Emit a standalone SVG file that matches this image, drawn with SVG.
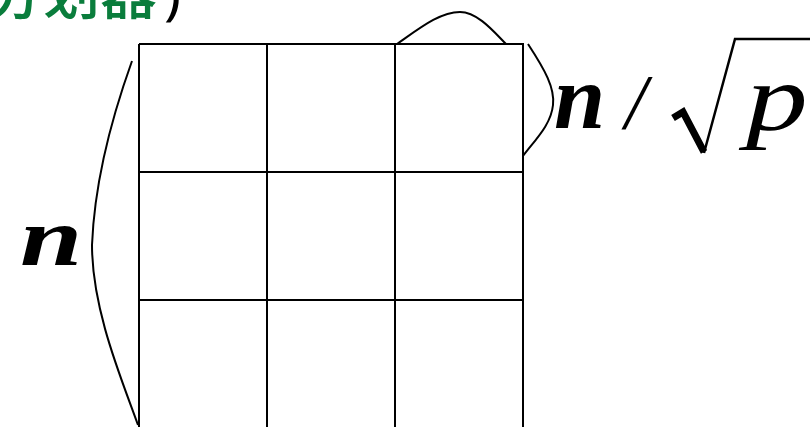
<svg xmlns="http://www.w3.org/2000/svg" width="810" height="427" viewBox="0 0 810 427">
<style>
.g{stroke:#000;stroke-width:2;fill:none}
.c{stroke:#000;stroke-width:2;fill:none}
.m{font-family:"Liberation Serif","DejaVu Serif",serif;font-style:italic;fill:#000}
.t{font-family:"Noto Sans CJK SC","Noto Sans",sans-serif;fill:#0a7d3c;font-size:57px;font-weight:500}
</style>
<rect width="810" height="427" fill="#fff"/>
<g id="title">
<text class="t" x="-14" y="14">分划器</text>
<text x="164" y="14" font-family="Noto Sans,sans-serif" font-size="57" fill="#000">)</text>
</g>
<g id="grid">
<path class="g" d="M139,44H523V440M139,44V440M267,44V440M395,44V440M139,172H523M139,300H523"/>
</g>
<g id="connectors">
<path class="c" d="M132,61 C118,100 95,170 92,245 C92,310 122,380 138,425"/>
<path class="c" d="M397,44 C420,28 440,12 460,12 C478,12 495,33 506,44"/>
<path class="c" d="M528,44 C545,70 555,88 553,105 C551,125 535,140 523,156"/>
</g>
<g id="label-n">
<text class="m" font-size="100" font-weight="bold" transform="translate(20,265) scale(1.12,0.83)">n</text>
</g>
<g id="label-block">
<text class="m" x="554" y="128" font-size="92" font-weight="bold">n</text>
<text class="m" x="625" y="128" font-size="78" font-style="normal">/</text>
<path d="M673,118 L683,112 L704,152" stroke="#000" stroke-width="7" fill="none" stroke-linejoin="miter"/>
<path d="M704,153 L735,39 H810" stroke="#000" stroke-width="2.5" fill="none"/>
<text class="m" font-size="95" transform="translate(746,130) scale(1.3,1)">p</text>
</g>
</svg>
